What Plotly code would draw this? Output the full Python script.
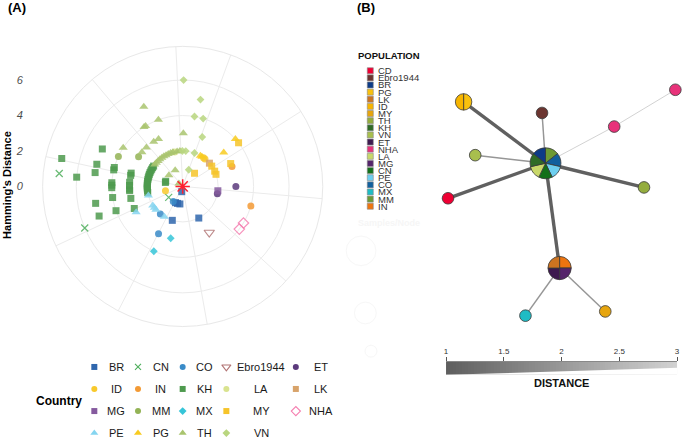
import numpy as np
import plotly.graph_objects as go

W, H = 685, 443

# ---------------- Panel A: Hamming distance (r) and angular position (deg) per country ----------------
BR_r = [2, 2, 1, 1, 1, 0.3]
BR_theta = [153, 197, 204, 197, 189, 190]
CN_r = [7, 6, 1]
CN_theta = [276, 247, 232]
CO_r = [1, 2, 3]
CO_theta = [212, 219, 207]
EBRO_r = [3]
EBRO_theta = [150]
ET_r = [3, 2]
ET_theta = [90, 102]
ID_r = [2, 2, 1]
ID_theta = [36, 39, 256]
IN_r = [3, 4]
IN_theta = [68, 106]
KH_r = [7, 6, 5, 5, 5, 5, 5, 4, 4, 4, 4, 4, 4, 4, 3, 3, 3, 3, 3, 3, 3, 3,
        2, 2, 2, 2, 2, 2, 2, 2, 2, 2, 2, 2, 2, 2, 2, 2, 1, 1]
KH_theta = [283, 275, 295, 284.5, 279, 259, 250.5, 285.5, 283.5, 273, 271, 269, 261, 250,
            284.5, 282, 274.5, 271, 267, 265.5, 257, 245.5,
            305, 302, 299, 296, 293, 290, 287, 284, 281, 278, 275, 272, 269, 266, 263, 260, 283, 287]
LA_r = [2]
LA_theta = [347]
LK_r = [2]
LK_theta = [49]
MG_r = [2]
MG_theta = [97]
MM_r = [4, 3]
MM_theta = [295, 304]
MX_r = [3, 4]
MX_theta = [193, 204]
MY_r = [4, 3, 2, 2, 2, 1]
MY_theta = [52, 64.5, 55, 64.5, 70, 42]
NHA_r = [4, 4]
NHA_theta = [121, 127]
PE_r = [2, 2, 2, 2, 2, 3]
PE_theta = [255, 237.5, 233, 229, 211, 241]
PG_r = [4, 3, 2, 2]
PG_theta = [48, 50.5, 30, 33]
TH_r = [5, 4, 4, 4, 4, 3, 3, 3, 3, 3, 2, 2, 2, 2, 2, 2, 2, 2, 2, 2, 2, 2, 1, 1, 0.27]
TH_theta = [334, 340, 328.5, 327, 303, 0.7, 333, 327, 317, 310,
            351, 355.5, 344, 340, 336, 332, 328, 324, 320, 316, 312, 308, 335, 309, 309]
VN_r = [6, 5, 4, 4, 3, 2, 2, 2, 1]
VN_theta = [0.5, 11.6, 9.6, 16.8, 21.6, 359.5, 5, 19.5, 20]
CD_r = [0]
CD_theta = [0]

radial_ticks = [0, 2, 4, 6]
theta_breaks = [20.1, 57.6, 95.0, 132.5, 169.9, 207.4, 244.9, 282.3, 319.8, 357.2]

countries = ["BR", "CN", "CO", "Ebro1944", "ET", "ID", "IN", "KH", "LA", "LK",
             "MG", "MM", "MX", "MY", "NHA", "PE", "PG", "TH", "VN"]
country_r = [BR_r, CN_r, CO_r, EBRO_r, ET_r, ID_r, IN_r, KH_r, LA_r, LK_r,
             MG_r, MM_r, MX_r, MY_r, NHA_r, PE_r, PG_r, TH_r, VN_r]
country_theta = [BR_theta, CN_theta, CO_theta, EBRO_theta, ET_theta, ID_theta, IN_theta, KH_theta,
                 LA_theta, LK_theta, MG_theta, MM_theta, MX_theta, MY_theta, NHA_theta, PE_theta,
                 PG_theta, TH_theta, VN_theta]

# styles
c_colors = ["#2f66ad", "#4dae5b", "#3a8bc8", "#b27474", "#5c3a7d", "#f8c92c", "#f39a35", "#4e9a4e",
            "#d9e38f", "#d8a36a", "#855a9e", "#93b355", "#36c5d8", "#f6c42a", "#f57fb0", "#85d5f0",
            "#f8cb20", "#a9c46e", "#b9d67f"]
c_symbols = ["square", "x-thin-open", "circle", "triangle-down-open", "circle", "circle", "circle", "square",
             "circle", "square", "square", "circle", "diamond", "square", "diamond-open", "triangle-up",
             "triangle-up", "triangle-up", "diamond"]
c_sizes = [7, 7, 7, 9, 7, 7, 7, 7, 7, 7, 7, 7, 6, 7, 8, 8, 8, 8, 6]

# ---------------- Panel B: haplotype network ----------------
pop_names = ["CD", "Ebro1944", "BR", "PG", "LK", "ID", "MY", "TH", "KH", "VN", "ET", "NHA", "LA", "MG",
             "CN", "PE", "CO", "MX", "MM", "IN"]
pop_colors = ["#ee0033", "#6b3530", "#0d3b87", "#f9c10e", "#cd7420", "#f7b500", "#e6a50f", "#94ad3e",
              "#2f6b26", "#a8bf4d", "#3d1a4f", "#e8327a", "#c9d86a", "#55246a", "#13701a", "#6dcff0",
              "#11609e", "#1fbcc4", "#6c9a35", "#ee7510"]
node_x = [547.5, 465.0, 544.0, 616.7, 678.3, 476.7, 449.3, 646.7, 561.7, 527.3, 607.7]
node_y = [165.5, 103.3, 114.5, 128.3, 91.0, 157.3, 201.0, 190.0, 271.7, 320.0, 315.7]
node_pops = [["MM", "CO", "PE", "CN", "LA", "KH", "BR"], ["PG", "ID"], ["Ebro1944"], ["NHA"], ["NHA"],
             ["VN"], ["CD"], ["TH"], ["IN", "MG", "ET", "LK"], ["MX"], ["MY"]]
edge_from = [0, 0, 0, 3, 0, 0, 0, 0, 8, 8]
edge_to = [1, 2, 3, 4, 5, 6, 7, 8, 9, 10]
edge_dist = [1, 2, 3, 3, 2, 1, 1, 1, 2, 2]
dist_ticks = [1, 1.5, 2, 2.5, 3]
dist_ticktext = ["1", "1.5", "2", "2.5", "3"]

FONT = "Liberation Sans, Arial, sans-serif"
DY = 3  # vertical nudge (px) of panel A polar area

fig = go.Figure()

# ---- polar points
for name, r, th, col, sym, sz in zip(countries, country_r, country_theta, c_colors, c_symbols, c_sizes):
    is_open = sym.endswith("open")
    fig.add_trace(go.Scatterpolar(
        r=r, theta=th, mode="markers", name=name, showlegend=False, hoverinfo="skip",
        marker=dict(symbol=sym, size=sz, color=col, opacity=0.85,
                    line=dict(color=col, width=1.2 if is_open else 0))))
fig.add_trace(go.Scatterpolar(
    r=CD_r, theta=CD_theta, mode="markers", showlegend=False, hoverinfo="skip",
    marker=dict(symbol="asterisk-open", size=12, color="#ff1f2f", line=dict(color="#ff1f2f", width=1.5))))

# ---- radial axis labels (cartesian axis aligned with polar radius)
fig.add_trace(go.Scatter(x=[0.5], y=[0], mode="markers", marker=dict(opacity=0), showlegend=False,
                         hoverinfo="skip", xaxis="x", yaxis="y"))

# ---- canvas (pixel) axis for legends and network
def px_trace(**kw):
    kw.setdefault("showlegend", False)
    kw.setdefault("hoverinfo", "skip")
    return go.Scatter(xaxis="x2", yaxis="y2", **kw)

# country legend (panel A)
leg_sym_x = [93, 137, 182, 226, 296]
leg_lab_x = [115, 160, 204, 261, 321]
leg_row_y = [372, 394.3, 416.7, 439]
annotations = []
for i, (name, col, sym, sz) in enumerate(zip(countries, c_colors, c_symbols, c_sizes)):
    rr, cc = divmod(i, 5)
    is_open = sym.endswith("open")
    fig.add_trace(px_trace(x=[leg_sym_x[cc]], y=[leg_row_y[rr]], mode="markers",
                           marker=dict(symbol=sym, size=max(sz - 1, 6), color=col,
                                       line=dict(color=col, width=1.1 if is_open else 0))))
    annotations.append(dict(x=leg_lab_x[cc], y=leg_row_y[rr], xref="x2", yref="y2", text=name,
                            showarrow=False, xanchor="center", yanchor="middle",
                            font=dict(family=FONT, size=11, color="#1a1a1a")))
annotations.append(dict(x=57, y=406, xref="x2", yref="y2", text="<b>Country</b>", showarrow=False,
                        xanchor="center", yanchor="middle", font=dict(family=FONT, size=12, color="black")))

# network edges
def grey(d):
    t = (d - 1) / 2.0
    v = int(round(96 + t * (205 - 96)))
    return f"rgb({v},{v},{v})"

for a, b, d in zip(edge_from, edge_to, edge_dist):
    fig.add_trace(px_trace(x=[node_x[a], node_x[b]], y=[node_y[a], node_y[b]], mode="lines",
                           line=dict(color=grey(d), width=3.4 / d ** 1.2)))

# network nodes as pies
pop_col = dict(zip(pop_names, pop_colors))
for nx_, ny_, pops in zip(node_x, node_y, node_pops):
    rad = 5.9 * np.sqrt(len(pops))
    fig.add_trace(go.Pie(
        values=[1] * len(pops), labels=[f"{p}_{k}" for k, p in enumerate(pops)],
        marker=dict(colors=[pop_col[p] for p in pops], line=dict(color="#3a3a3a", width=0.8)),
        domain=dict(x=[(nx_ - rad) / W, (nx_ + rad) / W], y=[1 - (ny_ + rad) / H, 1 - (ny_ - rad) / H]),
        textinfo="none", sort=False, direction="clockwise", rotation=0, showlegend=False,
        hoverinfo="skip"))

# population legend
pop_y0, pop_dy = 71.7, 7.23
for k, (p, c) in enumerate(zip(pop_names, pop_colors)):
    yy = pop_y0 + k * pop_dy
    fig.add_trace(px_trace(x=[371], y=[yy], mode="markers",
                           marker=dict(symbol="square", size=6, color=c, line=dict(color="#888", width=0.6))))
    annotations.append(dict(x=376.5, y=yy, xref="x2", yref="y2", text=p, showarrow=False,
                            xanchor="left", yanchor="middle",
                            font=dict(family=FONT, size=9.5, color="#333")))
annotations.append(dict(x=357, y=56, xref="x2", yref="y2", text="<b>POPULATION</b>", showarrow=False,
                        xanchor="left", yanchor="middle", font=dict(family=FONT, size=9.5, color="#111")))

# faint samples/node legend
annotations.append(dict(x=357, y=226, xref="x2", yref="y2", text="<b>Samples/Node</b>", showarrow=False,
                        xanchor="left", yanchor="middle", font=dict(family=FONT, size=9, color="#f6f6f6")))
shapes = []
for cx, cy, rr in [(361.7, 254.3, 15), (366, 317.3, 11), (371.7, 356, 6)]:
    shapes.append(dict(type="circle", xref="x2", yref="y2", x0=cx - rr, x1=cx + rr, y0=cy - rr, y1=cy + rr,
                       line=dict(color="#f7f7f7", width=1)))

# ---- distance gradient bar
gx = np.linspace(1, 3, 80)
fig.add_trace(go.Heatmap(x=gx, y=[0, 1], z=[gx, gx], colorscale=[[0, "#5e5e5e"], [1, "#d2d2d2"]],
                         zmin=1, zmax=3, showscale=False, hoverinfo="skip", xaxis="x3", yaxis="y3"))
shapes.append(dict(type="path", xref="x3", yref="y3", path="M 0.98,-0.05 L 3.05,-0.05 L 3.05,0.55 L 1,0 Z",
                   fillcolor="white", line=dict(width=0), layer="above"))
annotations.append(dict(x=563.5, y=388.5, xref="x2", yref="y2", text="<b>DISTANCE</b>", showarrow=False,
                        xanchor="center", yanchor="middle", font=dict(family=FONT, size=11, color="#111")))

# titles
annotations.append(dict(x=5.5, y=187, xref="x2", yref="y2", text="<b>Hamming's Distance</b>", textangle=-90,
                        showarrow=False, xanchor="center", yanchor="middle",
                        font=dict(family=FONT, size=11, color="black")))
annotations.append(dict(x=4, y=8, xref="x2", yref="y2", text="<b>(A)</b>", showarrow=False,
                        xanchor="left", yanchor="middle", font=dict(family=FONT, size=13, color="black")))
annotations.append(dict(x=356, y=8, xref="x2", yref="y2", text="<b>(B)</b>", showarrow=False,
                        xanchor="left", yanchor="middle", font=dict(family=FONT, size=13, color="black")))

fig.update_layout(
    width=W, height=H, margin=dict(l=0, r=0, t=0, b=0),
    paper_bgcolor="white", plot_bgcolor="rgba(0,0,0,0)",
    font=dict(family=FONT),
    polar=dict(
        domain=dict(x=[40 / W, 324 / W], y=[1 - (328 + DY) / H, 1 - (44 + DY) / H]),
        bgcolor="white",
        radialaxis=dict(range=[0, 7.9], tickvals=[2, 4, 6], showticklabels=False, ticks="",
                        showline=False, gridcolor="#ebebeb", gridwidth=1),
        angularaxis=dict(rotation=90, direction="clockwise", tickvals=theta_breaks, showticklabels=False,
                         ticks="", gridcolor="#ebebeb", showline=True, linecolor="#e8e8e8", linewidth=1),
    ),
    xaxis=dict(domain=[22 / W, 30 / W], range=[0, 1], visible=False, anchor="y"),
    yaxis=dict(domain=[1 - (186 + DY) / H, 1 - (44 + DY) / H], range=[0, 7.9], tickvals=radial_ticks,
               anchor="x", showgrid=False, zeroline=False, showline=False, ticks="",
               tickfont=dict(family=FONT, size=11, color="#4d4d4d", style="italic")),
    xaxis2=dict(domain=[0, 1], range=[0, W], visible=False, anchor="y2"),
    yaxis2=dict(domain=[0, 1], range=[H, 0], visible=False, anchor="x2"),
    xaxis3=dict(domain=[447.3 / W, 680 / W], range=[1, 3], anchor="y3", side="top",
                tickvals=dist_ticks, ticktext=dist_ticktext, ticks="outside", ticklen=4, tickcolor="#555",
                showline=True, linecolor="#888", linewidth=1, showgrid=False, zeroline=False,
                tickfont=dict(family=FONT, size=8, color="#333")),
    yaxis3=dict(domain=[1 - 380 / H, 1 - 366.7 / H], range=[0, 1], visible=False, anchor="x3"),
    annotations=annotations, shapes=shapes,
)

fig.write_html("out.html", config={"displayModeBar": False, "staticPlot": True},
               post_script="document.body.style.margin='0px';document.body.style.overflow='hidden';")
